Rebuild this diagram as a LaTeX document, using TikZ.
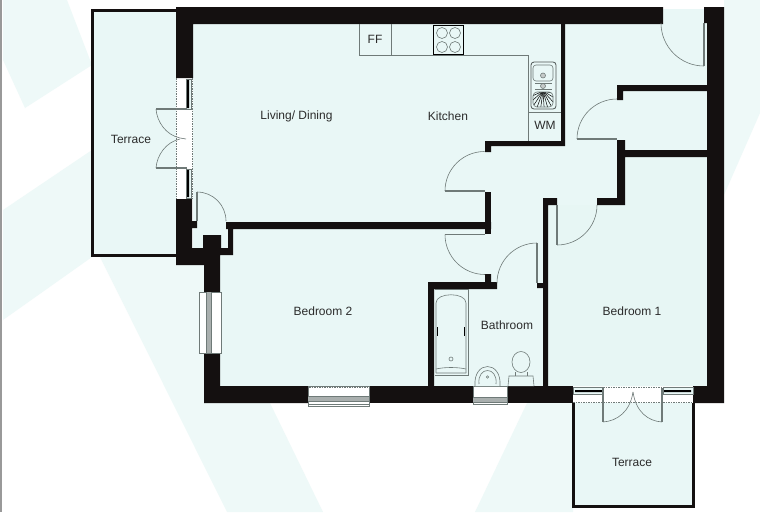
\documentclass[tikz,border=0pt]{standalone}
\usepackage{fontspec}
\setmainfont{Liberation Sans}
\definecolor{roomfill}{HTML}{E9F7F6}
\definecolor{roomfillb}{HTML}{E7F6F4}
\definecolor{palebg}{HTML}{EEF9F8}
\definecolor{wallc}{HTML}{141010}
\definecolor{thin}{HTML}{6F7A78}
\definecolor{labelc}{HTML}{2B2B2B}
\tikzset{
 wall/.style={fill=wallc,draw=none},
 leaf/.style={draw=thin,line width=1.4pt},
 swing/.style={draw=thin,line width=.6pt},
 fine/.style={draw=thin,line width=.6pt},
 dashline/.style={draw=thin,line width=.5pt,dash pattern=on 1.5pt off 1pt},
 roomlabel/.style={text=labelc,font=\fontsize{12}{14}\selectfont,inner sep=0pt},
 glass/.style={fill=white,draw=thin,line width=.6pt}
}
\begin{document}
\begin{tikzpicture}[x=1pt,y=-1pt]
\useasboundingbox (0,0) rectangle (760,512);
\fill[white] (0,0) rectangle (760,512);
\fill[gray!80] (0,0) rectangle (2,512);
% pale background bands
\fill[palebg] (3,0) -- (67,0) -- (92,65) -- (25,108) -- (3,60) -- cycle;
\fill[palebg] (3,210) -- (92,150) -- (92,257) -- (3,320) -- cycle;
\fill[palebg] (100,257) -- (204,257) -- (204,403) -- (270,403) -- (323,512) -- (227,512) -- cycle;
\fill[palebg] (527,403) -- (573,403) -- (573,512) -- (475,512) -- cycle;
\fill[palebg] (724,0) -- (760,0) -- (760,113) -- (724,195) -- cycle;
% rooms
\fill[roomfill] (193,24) -- (663,24) -- (663,9) -- (708,9) -- (708,386) -- (220,386) -- (220,255) -- (193,255) -- cycle;
\fill[roomfill] (92,10) rectangle (176,255);
\fill[roomfill] (573,403) rectangle (693,506);
\fill[roomfillb] (625,157) -- (708,157) -- (708,386) -- (548,386) -- (548,205) -- (625,205) -- cycle;
% terrace outlines
\draw[wallc,line width=3pt] (176,10) -- (92,10) -- (92,255) -- (176,255);
\draw[wallc,line width=3pt] (573,403) -- (573,506) -- (693,506) -- (693,403);
% walls
\fill[wall] (176,7) -- (663,7) -- (663,24) -- (193,24) -- (193,78) -- (176,78) -- cycle;
\fill[wall] (176,199) -- (192,199) -- (192,221) -- (197,221) -- (197,228) -- (192,228) -- (192,248) -- (203,248) -- (203,235) -- (221,235) -- (221,248) -- (228,248) -- (228,229) -- (226,229) -- (226,222) -- (491,222) -- (491,229) -- (233,229) -- (233,255) -- (220,255) -- (220,292) -- (204,292) -- (204,265) -- (176,265) -- cycle;
\fill[wall] (204,353) -- (220,353) -- (220,386) -- (308,386) -- (308,403) -- (204,403) -- cycle;
\fill[wall] (369,386) rectangle (473,403);
\fill[wall] (507,386) rectangle (573,403);
\fill[wall] (693,386) -- (707,386) -- (707,23) -- (704,23) -- (704,7) -- (724,7) -- (724,403) -- (693,403) -- cycle;
% partitions
\fill[wall] (561,24) -- (565,24) -- (565,146) -- (491,146) -- (491,152) -- (485,152) -- (485,141) -- (561,141) -- cycle;
\fill[wall] (485,192) rectangle (491,234);
\fill[wall] (617,100) -- (623,100) -- (623,91) -- (708,91) -- (708,85) -- (617,85) -- cycle;
\fill[wall] (617,140) -- (625,140) -- (625,150) -- (708,150) -- (708,157) -- (625,157) -- (625,205) -- (597,205) -- (597,198) -- (617,198) -- cycle;
\fill[wall] (543,198) -- (557,198) -- (557,205) -- (548,205) -- (548,386) -- (543,386) -- (543,288) -- (537,288) -- (537,283) -- (543,283) -- cycle;
\fill[wall] (428,282) -- (485,282) -- (485,274) -- (491,274) -- (491,282) -- (497,282) -- (497,289) -- (434,289) -- (434,386) -- (428,386) -- cycle;
% doors (angles measured in the flipped y-down system)
\draw[leaf] (485,191) -- (445,191); \draw[swing] (445,191) arc[start angle=180,end angle=270,radius=39.5];
\draw[leaf] (485,234.5) -- (445,234.5); \draw[swing] (445,234.5) arc[start angle=180,end angle=90,radius=40];
\draw[leaf] (537,283) -- (537,243); \draw[swing] (537,243) arc[start angle=270,end angle=180,radius=40];
\draw[leaf] (557,205) -- (557,245); \draw[swing] (557,245) arc[start angle=90,end angle=0,radius=40];
\draw[leaf] (617,139) -- (577,139); \draw[swing] (577,139) arc[start angle=180,end angle=270,radius=40];
\draw[leaf] (704,23) -- (704,66); \draw[swing] (704,66) arc[start angle=90,end angle=180,radius=43];
\draw[leaf] (197,192) -- (197,221); \draw[swing] (197,192) arc[start angle=270,end angle=360,radius=29];
% west terrace doors
\draw[dashline] (176.5,78) -- (176.5,199) (192,78) -- (192,199);
\draw[fine,fill=roomfill] (186,79) rectangle (191,109);
\draw[fine,fill=roomfill] (186,169) rectangle (191,198);
\fill[thin] (187,80) rectangle (189,108) (187,170) rectangle (189,197);
\draw[leaf] (187,109) -- (156,109); \draw[leaf] (187,168) -- (156,168);
\draw[swing] (156,109) .. controls (157,122) and (166,135) .. (180,138) -- (186,139);
\draw[swing] (156,168) .. controls (157,155) and (166,142) .. (180,139);
% south terrace doors
\draw[dashline] (573,387) -- (693,387) (573,402) -- (693,402);
\draw[fine,fill=roomfill] (573,387) rectangle (603,394);
\draw[fine,fill=roomfill] (663,387) rectangle (693,394);
\fill[thin] (575,390) rectangle (602,392) (664,390) rectangle (691,392);
\draw[leaf] (603,388) -- (603,422); \draw[leaf] (662,388) -- (662,422);
\draw[swing] (603,422) .. controls (617,421) and (630,412) .. (633,392);
\draw[swing] (662,422) .. controls (648,421) and (636,412) .. (633,392);
% windows
\draw[glass] (199.5,292) rectangle (221,353);
\draw[dashline] (221.5,292) -- (221.5,353);
\draw[fine] (206,292) -- (206,353) (211,292) -- (211,353);
\fill[thin!60] (206.5,292) rectangle (210.5,353);
\draw[glass] (308,386) rectangle (369,406);
\fill[thin!60] (308,396) rectangle (369,401.5);
\draw[fine] (308,396) -- (369,396) (308,401.5) -- (369,401.5) (308,404) -- (369,404);
\draw[dashline] (309,387.5) -- (368,387.5);
\draw[glass] (473,386) rectangle (507,404);
\fill[thin!60] (473,397) rectangle (507,402);
\draw[fine] (473,397) -- (507,397) (473,402) -- (507,402);
% kitchen units
\draw[fine] (359,24) -- (359,55) -- (528,55) -- (528,141);
\draw[fine] (391,24) -- (391,55);
\draw[fine] (528,112) -- (561,112);
\draw[thin,line width=1pt,fill=roomfill] (433.5,25.5) rectangle (463,54.5);
\foreach \cx/\cy in {442/33,455/33,442/47,455/47}
  \draw[fine] (\cx,\cy) circle[radius=5.5];
% sink
\draw[thin!70!black,line width=.8pt,rounded corners=3pt] (531,62) rectangle (556,109);
\draw[fine,rounded corners=3pt] (533,65) rectangle (553,81);
\draw[fine,fill=thin!40] (543,75.5) circle[radius=2.5];
\draw[fine,fill=thin!40] (543,86) circle[radius=2.5];
\draw[fine] (535,83) -- (552,83) (535,89) -- (552,89);
\begin{scope}
\clip[rounded corners=4pt] (533,92) rectangle (553,107);
\foreach \a in {10,25,...,170}
  \draw[thin,line width=.5pt] (543,91) -- ++({14*cos(\a)},{18*sin(\a)});
\end{scope}
\draw[fine,rounded corners=4pt] (533,92) rectangle (553,107);
% bathroom
\draw[fine] (434.5,289) -- (468,289) -- (468,375) -- (434.5,375);
\draw[fine] (436,373) -- (436,303) .. controls (436,292) and (466,292) .. (466,303) -- (466,373);
\draw[fine] (436,373) -- (466,373) (436,369) .. controls (445,367) and (457,367) .. (466,369);
\draw[thin,line width=1.2pt] (437.5,327) -- (437.5,336) (464.5,327) -- (464.5,336);
\draw[fine] (451,359) circle[radius=2];
\draw[fine,fill=roomfill] (475,386) .. controls (473,360) and (502,360) .. (500,386);
\draw[fine] (479,384) .. controls (477,366) and (498,366) .. (496,384);
\draw[fine] (487.5,377) circle[radius=1.3];
\draw[fine] (521,362) ellipse[x radius=9,y radius=10.5];
\draw[fine] (515,372) -- (515,376) (527,372) -- (527,376);
\draw[fine,fill=roomfill] (508,386) -- (509,376) -- (533,376) -- (534,386);
% labels
\node[roomlabel] (terraceW) at (131,139.5) {Terrace};
\node[roomlabel] (living) at (296.5,116) {Living/ Dining};
\node[roomlabel] (kitchen) at (448,116) {Kitchen};
\node[roomlabel] (ff) at (375,39.5) {FF};
\node[roomlabel] (wm) at (545,125.5) {WM};
\node[roomlabel] (bed2) at (323,311.5) {Bedroom 2};
\node[roomlabel] (bath) at (507,325) {Bathroom};
\node[roomlabel] (bed1) at (632,311.5) {Bedroom 1};
\node[roomlabel] (terraceS) at (632,462.5) {Terrace};
\end{tikzpicture}
\end{document}
